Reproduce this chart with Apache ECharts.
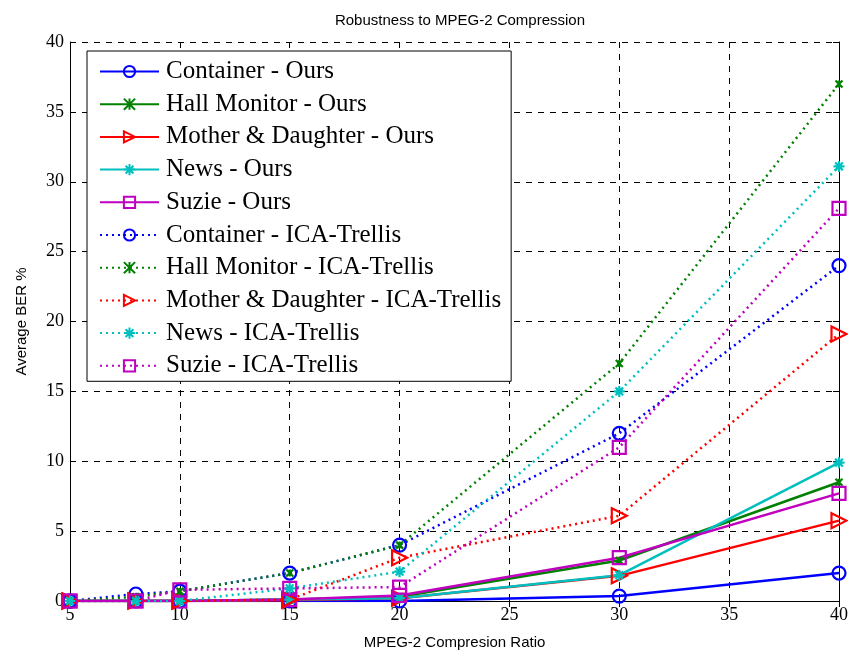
<!DOCTYPE html>
<html><head><meta charset="utf-8">
<script src="https://cdn.jsdelivr.net/npm/echarts@6/dist/echarts.min.js"></script>
<style>html,body{margin:0;padding:0;background:#fff}#c{width:848px;height:654px}</style>
</head><body><div id="c"></div>
<script>
const ratios = [5, 8, 10, 15, 20, 30, 40];
const seriesNames = [
  'Container - Ours', 'Hall Monitor - Ours', 'Mother & Daughter - Ours', 'News - Ours', 'Suzie - Ours',
  'Container - ICA-Trellis', 'Hall Monitor - ICA-Trellis', 'Mother & Daughter - ICA-Trellis', 'News - ICA-Trellis', 'Suzie - ICA-Trellis'
];
const containerOurs = [0, 0, 0, 0, 0, 0.35, 2.0];
const hallOurs      = [0, 0, 0, 0.1, 0.3, 2.9, 8.5];
const motherOurs    = [0, 0, 0, 0.05, 0.2, 1.8, 5.75];
const newsOurs      = [0, 0, 0, 0.1, 0.2, 1.85, 9.9];
const suzieOurs     = [0, 0, 0, 0.1, 0.4, 3.1, 7.7];
const containerICA  = [0, 0.5, 0.7, 2.0, 4.0, 12.0, 24.0];
const hallICA       = [0, 0.3, 0.7, 2.0, 4.0, 17.0, 37.0];
const motherICA     = [0, 0, 0, 0.1, 3.1, 6.1, 19.1];
const newsICA       = [0, 0, 0, 0.9, 2.1, 15.0, 31.1];
const suzieICA      = [0, 0, 0.8, 0.9, 1.0, 11.0, 28.1];
const xTicks = [5, 10, 15, 20, 25, 30, 35, 40];
const yTicks = [0, 5, 10, 15, 20, 25, 30, 35, 40];

const colors = ['#0000ff', '#008000', '#ff0000', '#00bfbf', '#bf00bf'];
const symbols = [
  {s: 'circle', size: 13},
  {s: 'path://M0,0L10,10M10,0L0,10M5,0L5,10', size: 7},
  {s: 'path://M0,0L10,5L0,10Z', size: 15},
  {s: 'path://M5,0L5,10M0,5L10,5M1.5,1.5L8.5,8.5M8.5,1.5L1.5,8.5', size: 11},
  {s: 'rect', size: 13}
];
const allData = [containerOurs, hallOurs, motherOurs, newsOurs, suzieOurs,
                 containerICA, hallICA, motherICA, newsICA, suzieICA];

const series = allData.map((vals, i) => {
  const k = i % 5;
  const dotted = i >= 5;
  return {
    name: seriesNames[i],
    type: 'line',
    data: ratios.map((x, j) => [x, vals[j]]),
    symbol: symbols[k].s,
    symbolSize: symbols[k].size,
    showAllSymbol: true,
    animation: false,
    lineStyle: {color: colors[k], width: 2.5, type: dotted ? [2, 4] : 'solid'},
    itemStyle: {color: 'rgba(255,255,255,0)', borderColor: colors[k], borderWidth: 2.2},
    emphasis: {disabled: true}
  };
});

const chart = echarts.init(document.getElementById('c'), null, {renderer: 'canvas'});
const serif = '"Liberation Serif", "Times New Roman", serif';
const sans = '"Liberation Sans", Arial, sans-serif';
chart.setOption({
  backgroundColor: '#fff',
  animation: false,
  title: {text: 'Robustness to MPEG-2 Compression', left: 455, textAlign: 'center', top: 8,
          textStyle: {fontFamily: sans, fontSize: 15, fontWeight: 'normal', color: '#000'}},
  grid: {left: 70, right: 9, top: 42, bottom: 53, show: false, outerBoundsMode: 'none', containLabel: false},
  legend: {
    left: 87, top: 51, orient: 'vertical',
    data: seriesNames,
    itemWidth: 59, itemHeight: 14, itemGap: 7.7,
    padding: [8, 10, 3, 12],
    borderColor: '#000', borderWidth: 1, backgroundColor: '#fff',
    textStyle: {fontFamily: serif, fontSize: 25, lineHeight: 24, color: '#000', padding: [0, 0, 0, 2]},
    selectedMode: false
  },
  xAxis: [{
    type: 'value', min: 5, max: 40, interval: 5,
    name: 'MPEG-2 Compresion Ratio', nameLocation: 'middle', nameGap: 34,
    nameTextStyle: {fontFamily: sans, fontSize: 15, color: '#000'},
    axisLine: {lineStyle: {color: '#000', width: 1}},
    axisTick: {inside: true, length: 6, lineStyle: {color: '#000'}},
    axisLabel: {fontFamily: serif, fontSize: 18, color: '#000', margin: 5},
    splitLine: {show: true, lineStyle: {color: '#000', type: [6, 6], width: 1}}
  }, {
    type: 'value', position: 'top', min: 5, max: 40, interval: 5,
    axisLine: {show: true, lineStyle: {color: '#000'}},
    axisTick: {inside: true, length: 6, lineStyle: {color: '#000'}},
    axisLabel: {show: false}, splitLine: {show: false}
  }],
  yAxis: [{
    type: 'value', min: 0, max: 40, interval: 5,
    name: 'Average BER %', nameLocation: 'middle', nameGap: 41,
    nameTextStyle: {fontFamily: sans, fontSize: 15, color: '#000'},
    axisLine: {show: true, lineStyle: {color: '#000', width: 1}},
    axisTick: {show: true, inside: true, length: 6, lineStyle: {color: '#000'}},
    axisLabel: {fontFamily: serif, fontSize: 18, color: '#000', margin: 6},
    splitLine: {show: true, lineStyle: {color: '#000', type: [6, 6], width: 1}}
  }, {
    type: 'value', position: 'right', min: 0, max: 40, interval: 5,
    axisLine: {show: true, lineStyle: {color: '#000'}},
    axisTick: {show: true, inside: true, length: 6, lineStyle: {color: '#000'}},
    axisLabel: {show: false}, splitLine: {show: false}
  }],
  series: series
});
</script></body></html>
